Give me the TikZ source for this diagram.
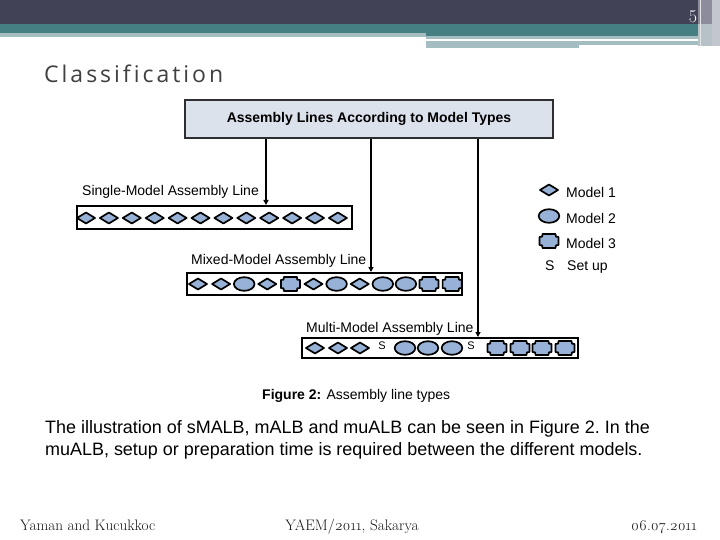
\documentclass[tikz,border=0pt]{standalone}
\usepackage{fontspec}
\usetikzlibrary{arrows.meta}
\newfontfamily\arialf{Liberation Sans}
\newfontfamily\titlef{Open Sans}[Ligatures=NoCommon, LetterSpace=13]
\newfontfamily\footf{Latin Modern Roman}[Numbers=OldStyle]
\definecolor{bandDark}{RGB}{66,66,86}
\definecolor{bandTeal}{RGB}{69,127,131}
\definecolor{bandLight}{RGB}{164,189,192}
\definecolor{stripeA}{RGB}{140,140,156}
\definecolor{stripeB}{RGB}{196,198,206}
\definecolor{titleGray}{RGB}{64,64,64}
\definecolor{footGray}{RGB}{20,20,20}
\definecolor{boxFill}{RGB}{220,226,236}
\definecolor{shapeBlue}{RGB}{151,178,214}
\tikzset{
  shp/.style={fill=shapeBlue, draw=black, line width=1.7pt, line join=round},
  diam/.pic={\path[shp] (-9,0)--(0,-5.5)--(9,0)--(0,5.5)--cycle;},
  ell/.pic={\path[shp] (0,0) ellipse [x radius=10.3pt, y radius=6.8pt];},
  plq/.pic={\path[shp] (-6.5,-7)--(6.5,-7) .. controls (6.5,-4) .. (9.5,-4) -- (9.5,4) .. controls (6.5,4) .. (6.5,7) -- (-6.5,7) .. controls (-6.5,4) .. (-9.5,4) -- (-9.5,-4) .. controls (-6.5,-4) .. (-6.5,-7) -- cycle;},
  linebox/.style={draw=black, line width=2pt, inner sep=0pt, fill=white},
  topbox/.style={draw={rgb,255:red,45;green,45;blue,50}, line width=2pt, fill=boxFill, inner sep=0pt,
     minimum width=368pt, minimum height=38pt, font=\arialf\bfseries\fontsize{14}{16}\selectfont},
  lbl/.style={anchor=base west, inner sep=0pt, font=\arialf\fontsize{14}{16}\selectfont},
  smallS/.style={inner sep=0pt, font=\arialf\fontsize{11}{12}\selectfont},
  arr/.style={line width=1.5pt, -{Triangle[length=5pt,width=5pt]}},
  para/.style={anchor=base west, inner sep=0pt, font=\arialf\fontsize{17.95}{22}\selectfont\frenchspacing},
  foot/.style={inner sep=0pt, text=footGray, font=\footf\fontsize{15.2}{17}\selectfont}
}
\begin{document}
\begin{tikzpicture}[x=1pt,y=-1pt]
\useasboundingbox (0,0) rectangle (720,540);
\fill[white] (0,0) rectangle (720,540);
% banner
\fill[bandDark] (0,0) rectangle (706,24);
\fill[bandTeal] (0,24) rectangle (706,33);
\fill[bandTeal] (426,24) rectangle (706,36);
\fill[bandLight] (0,33) rectangle (426,37);
\fill[bandLight] (426,36) rectangle (706,39);
\fill[bandLight] (426,41) rectangle (579,48);
\fill[bandLight] (579,41) rectangle (706,45);
\fill[stripeA] (698,0) rectangle (712,46);
\fill[stripeB] (712,0) rectangle (720,46);
\fill[stripeB!60!bandLight] (698,24) rectangle (712,46);
\draw[white!80!gray, line width=0.6pt] (700,0) -- (700,46);
\node[anchor=base, inner sep=0pt, text=white, font=\fontsize{18}{18}\selectfont] (pnum) at (693,22.5) {5};
% title
\node[anchor=base west, inner sep=0pt, text=titleGray, font=\titlef\fontsize{23}{25}\selectfont] (title) at (44,83) {Classification};
% top box
\node[topbox] (top) at (369,119) {Assembly Lines According to Model Types};
% line boxes
\node[linebox, minimum width=275pt, minimum height=23pt] (single) at (214.5,217.5) {};
\node[linebox, minimum width=275pt, minimum height=22pt] (mixed) at (324.5,284) {};
\node[linebox, minimum width=276pt, minimum height=20pt] (multi) at (440,348) {};
% labels
\node[lbl] (lsingle) at (82,196) {Single-Model Assembly Line};
\node[lbl] (lmixed) at (191,264) {Mixed-Model Assembly Line};
\node[lbl] (lmulti) at (306,332) {Multi-Model Assembly Line};
% arrows
\coordinate (c1) at (266,0);
\coordinate (c2) at (371,0);
\coordinate (c3) at (478,0);
\draw[arr] (top.south -| c1) -- (single.north -| c1);
\draw[arr] (top.south -| c2) -- (mixed.north -| c2);
\draw[arr] (top.south -| c3) -- (multi.north -| c3);
% shapes: single
\foreach \i in {0,...,11} { \pic at ({86+22.9*\i},218) {diam}; }
% mixed
\foreach \t [count=\i from 0] in {diam,diam,ell,diam,plq,diam,ell,diam,ell,ell,plq,plq} {
  \pic at ({198+23.1*\i},284) {\t};
}
% multi
\foreach \x in {315,338,360} { \pic at (\x,348) {diam}; }
\foreach \x in {405,428,452} { \pic at (\x,348) {ell}; }
\foreach \x in {497,520,542,565} { \pic at (\x,348) {plq}; }
\node[smallS] (s1) at (382,346) {S};
\node[smallS] (s2) at (471,346) {S};
% legend
\pic at (549,190) {diam};
\pic at (549,216) {ell};
\pic at (549,241) {plq};
\node[lbl] (m1) at (566,197) {Model 1};
\node[lbl] (m2) at (566,224) {Model 2};
\node[lbl] (m3) at (566,248) {Model 3};
\node[lbl] (ls) at (545,270) {S};
\node[lbl] (lsu) at (567,270) {Set up};
% caption
\node[anchor=base west, inner sep=0pt, font=\arialf\fontsize{14}{16}\selectfont] (cap) at (262,399) {\textbf{Figure 2:} Assembly line types};
% paragraph
\node[para] (p1) at (45,433) {The illustration of sMALB, mALB and muALB can be seen in Figure 2. In the};
\node[para] (p2) at (45,455) {muALB, setup or preparation time is required between the different models.};
% footer
\node[foot, anchor=base west] (f1) at (20,530) {Yaman and Kucukkoc};
\node[foot, anchor=base] (f2) at (352,530) {YAEM/2011, Sakarya};
\node[foot, anchor=base east] (f3) at (697,530) {06.07.2011};
\end{tikzpicture}
\end{document}
